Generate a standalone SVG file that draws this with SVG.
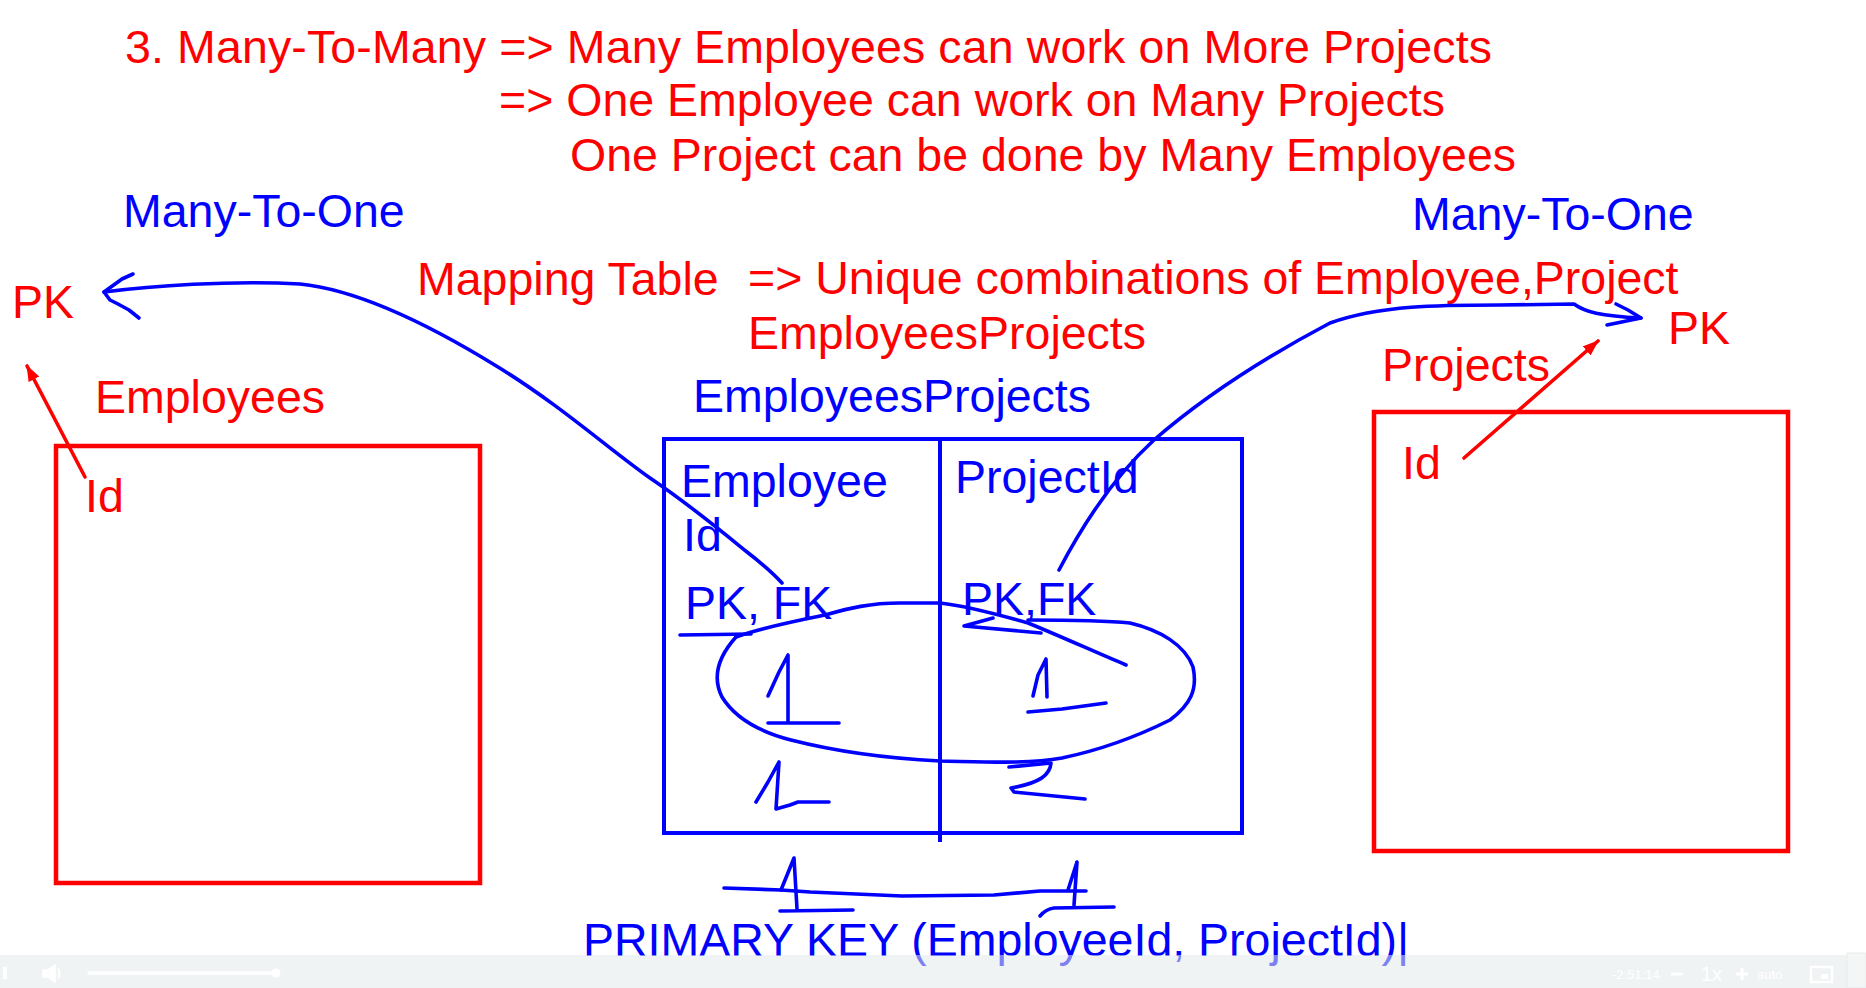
<svg xmlns="http://www.w3.org/2000/svg" width="1866" height="988" viewBox="0 0 1866 988">
<defs>
<style>
text{font-family:"Liberation Sans",Arial,Helvetica,sans-serif;font-size:46.5px}
.r{fill:#ff0000}
.b{fill:#0000ff}
.box-r{fill:none;stroke:#ff0000;stroke-width:4.5}
.box-b{fill:none;stroke:#0000ff;stroke-width:4}
.ink{fill:none;stroke:#0000ff;stroke-width:3.6;stroke-linecap:round;stroke-linejoin:round}
.inkr{fill:none;stroke:#ff0000;stroke-width:3.6;stroke-linecap:round}
.ui{fill:#ffffff;font-size:13px}
</style>
<marker id="ah-red" viewBox="0 0 16 12" refX="15" refY="6" markerWidth="16" markerHeight="12" markerUnits="userSpaceOnUse" orient="auto">
<path d="M0,0 L16,6 L0,12 Z" fill="#ff0000"/>
</marker>
</defs>
<rect width="1866" height="988" fill="#ffffff"/>

<g id="title">
<text class="r" x="125" y="63" textLength="1367">3. Many-To-Many =&gt; Many Employees can work on More Projects</text>
<text class="r" x="499" y="116">=&gt; One Employee can work on Many Projects</text>
<text class="r" x="570" y="171">One Project can be done by Many Employees</text>
</g>

<g id="labels">
<text class="b" x="123" y="227">Many-To-One</text>
<text class="b" x="1412" y="230">Many-To-One</text>
<text class="r" x="417" y="295">Mapping Table</text>
<text class="r" x="748" y="294">=&gt; Unique combinations of Employee,Project</text>
<text class="r" x="748" y="349">EmployeesProjects</text>
</g>

<g id="pk-left"><text class="r" x="12" y="318">PK</text></g>
<g id="pk-right"><text class="r" x="1668" y="344">PK</text></g>

<g id="employees">
<text class="r" x="95" y="413">Employees</text>
<rect class="box-r" x="56" y="446" width="424" height="437"/>
<text class="r" x="85" y="512">Id</text>
</g>

<g id="projects">
<text class="r" x="1382" y="381">Projects</text>
<rect class="box-r" x="1374" y="412" width="414" height="439"/>
<text class="r" x="1402" y="479">Id</text>
</g>

<g id="employees-projects">
<text class="b" x="693" y="412">EmployeesProjects</text>
<rect class="box-b" x="664" y="439" width="578" height="394"/>
<line x1="940" y1="439" x2="940" y2="842" stroke="#0000ff" stroke-width="4"/>
<text class="b" x="681" y="497">Employee</text>
<text class="b" x="683" y="551">Id</text>
<text class="b" x="955" y="493">ProjectId</text>
<text class="b" x="685" y="619">PK, FK</text>
<text class="b" x="962" y="615">PK,FK</text>
<g id="handwriting">
<path class="ink" d="M680,635 L751,634"/>
<path class="ink" d="M1041,633 L964,626 L993,618"/>
<path class="ink" d="M736,637 C760,628 800,620 825,615 C850,608 870,603 900,603 L940,603 C967,606 1000,615 1028,623 C1060,636 1095,652 1126,665"/>
<path class="ink" d="M1028,620 C1060,620 1100,620 1130,623 C1160,630 1185,645 1193,667 C1198,690 1190,705 1170,720 C1140,735 1100,750 1062,758 C1030,764 990,762 940,761 C880,758 830,750 791,740 C760,732 735,718 722,697 C712,677 718,657 736,637"/>
<path class="ink" d="M768,696 L779,672 L788,655 L788,723 M768,723 L839,723"/>
<path class="ink" d="M1033,696 L1038,675 L1046,659 L1047,697 M1028,712 L1062,709 L1106,703"/>
<path class="ink" d="M756,802 L768,782 L779,762 L776,809 L790,805 L798,802 L829,802"/>
<path class="ink" d="M1009,767 L1051,763 C1050,775 1040,783 1011,788 L1014,792 L1085,799"/>
<path class="ink" d="M724,888 L781,890 L810,892 L902,896 L994,895 L1040,891 L1086,891"/>
<path class="ink" d="M781,890 L794,858 L797,909 M780,911 L853,910"/>
<path class="ink" d="M1068,890 L1077,862 L1074,905 M1040,916 Q1046,909 1054,908 L1114,907"/>
</g>
</g>

<g id="primary-key">
<text class="b" x="583" y="956">PRIMARY KEY (EmployeeId, ProjectId)|</text>
</g>

<g id="connectors">
<path class="ink" d="M782,583 C772,572 760,562 747,552 C720,530 690,505 650,478 C610,450 560,405 498,367 C430,325 360,290 300,284 C230,280 150,286 104,292"/>
<path class="ink" d="M133,274 L122,279 L104,292 L110,300 L118,304 L129,310 L139,318"/>
<path class="ink" d="M1059,570 C1080,530 1110,480 1154,440 C1200,400 1260,360 1330,323 C1380,305 1440,305 1500,305 L1574,304 C1585,312 1600,316 1641,318"/>
<path class="ink" d="M1616,304 L1628,310 L1641,318 L1607,325"/>
<path class="inkr" d="M85,477 L27,366" marker-end="url(#ah-red)"/>
<path class="inkr" d="M1464,458 L1598,341" marker-end="url(#ah-red)"/>
</g>

<g id="player-bar">
<rect x="0" y="955" width="1866" height="33" fill="#e4e9e9" fill-opacity="0.55"/>
<rect x="3" y="967" width="4" height="12" fill="#ffffff"/>
<path d="M43,970 L48,970 L55,965 L55,982 L48,977 L43,977 Z M58,968 Q62,973.5 58,979" fill="#ffffff" stroke="#ffffff" stroke-width="1.5"/>
<line x1="89" y1="973" x2="276" y2="973" stroke="#ffffff" stroke-width="3.5" stroke-linecap="round"/>
<circle cx="276" cy="973" r="4.5" fill="#ffffff"/>
<text class="ui" x="1612" y="979">-2:51:14</text>
<line x1="1671" y1="974" x2="1683" y2="974" stroke="#ffffff" stroke-width="3"/>
<text class="ui" x="1701" y="981" style="font-size:20px">1x</text>
<path d="M1736,974 L1748,974 M1742,968 L1742,980" stroke="#ffffff" stroke-width="3"/>
<text class="ui" x="1757" y="979">auto</text>
<rect x="1811" y="967" width="21" height="15" fill="none" stroke="#ffffff" stroke-width="2.5"/>
<rect x="1821" y="974" width="7" height="5" fill="#ffffff"/>
<rect x="1847" y="953" width="19" height="35" fill="#f4f6f6" stroke="#e8ecec" stroke-width="1"/>
</g>
</svg>
